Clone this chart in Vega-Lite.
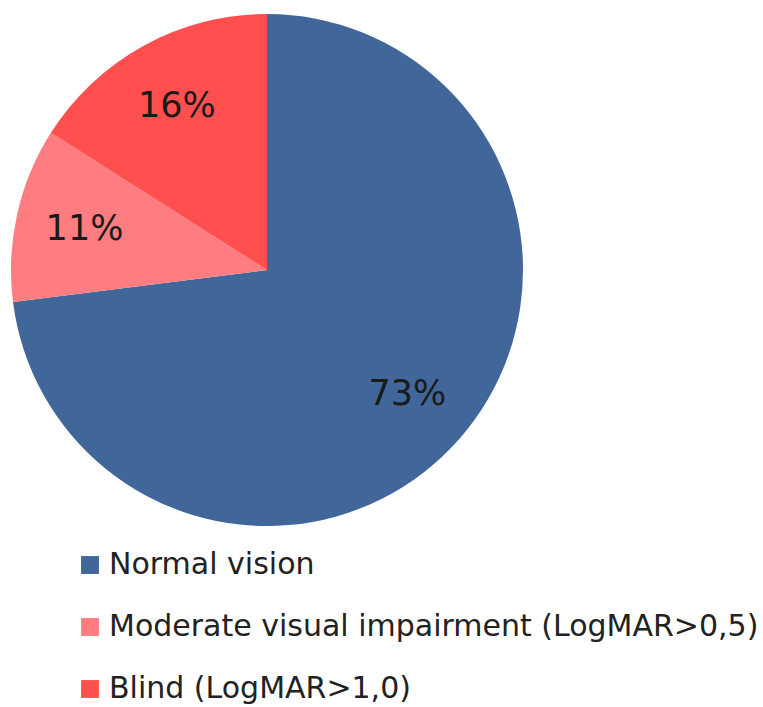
{
  "$schema": "https://vega.github.io/schema/vega-lite/v6.json",
  "width": 534,
  "height": 540,
  "autosize": "none",
  "padding": {"left": 0, "top": 0, "right": 229, "bottom": 167},
  "background": "white",
  "config": {"view": {"stroke": null}},
  "data": {
    "values": [
      {"category": "Normal vision", "value": 73, "order": 1, "label": "73%"},
      {"category": "Moderate visual impairment (LogMAR>0,5)", "value": 11, "order": 2, "label": "11%"},
      {"category": "Blind (LogMAR>1,0)", "value": 16, "order": 3, "label": "16%"}
    ]
  },
  "encoding": {
    "theta": {"field": "value", "type": "quantitative", "stack": true},
    "order": {"field": "order", "type": "quantitative"}
  },
  "layer": [
    {
      "mark": {"type": "arc", "outerRadius": 256},
      "encoding": {
        "color": {
          "field": "category",
          "type": "nominal",
          "scale": {
            "domain": ["Normal vision", "Moderate visual impairment (LogMAR>0,5)", "Blind (LogMAR>1,0)"],
            "range": ["#41679A", "#FF7C80", "#FF4F4F"]
          },
          "legend": {
            "orient": "none",
            "legendX": 75,
            "legendY": 550,
            "title": null,
            "symbolType": "square",
            "symbolSize": 320,
            "symbolStrokeWidth": 0,
            "labelFontSize": 30,
            "labelFont": "DejaVu Sans",
            "labelColor": "#222222",
            "labelOffset": 4,
            "labelLimit": 0,
            "rowPadding": 32
          }
        }
      }
    },
    {
      "mark": {"type": "text", "radius": 187, "fontSize": 35, "font": "DejaVu Sans", "fill": "#1a1a1a"},
      "encoding": {
        "text": {"field": "label", "type": "nominal"},
        "detail": {"field": "category", "type": "nominal"}
      }
    }
  ]
}
